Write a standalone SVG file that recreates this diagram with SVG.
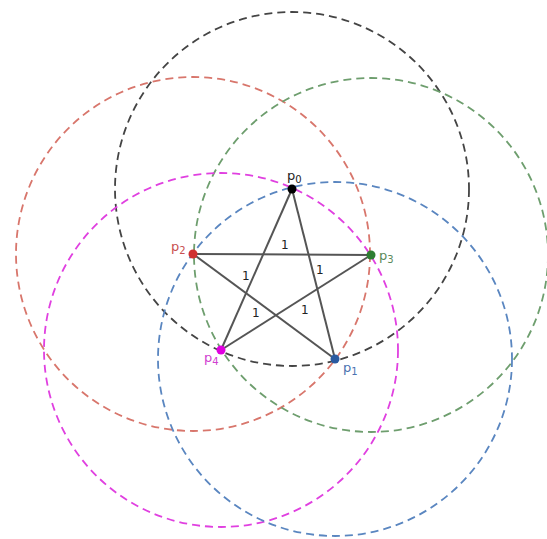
<svg xmlns="http://www.w3.org/2000/svg" width="547" height="539" viewBox="0 0 547 539">
<style>
.c{fill:none;stroke-width:1.8;stroke-dasharray:8 5}
.e{stroke:#555;stroke-width:2;fill:none}
.lbl{font-family:"DejaVu Sans",sans-serif;font-size:13px}
.w{font-family:"DejaVu Sans",sans-serif;font-size:12px;fill:#222}
</style>
<rect width="547" height="539" fill="#fff"/>
<g id="circles">
<circle class="c" cx="292" cy="189" r="177" stroke="#444"/>
<circle class="c" cx="193" cy="254" r="177" stroke="#d8766c"/>
<circle class="c" cx="371" cy="255" r="177" stroke="#6e9e6e"/>
<circle class="c" cx="221" cy="350" r="177" stroke="#e040e0"/>
<circle class="c" cx="335" cy="359" r="177" stroke="#5a86c0"/>
</g>
<g id="edges">
<line class="e" x1="292" y1="189" x2="335" y2="359"/>
<line class="e" x1="292" y1="189" x2="221" y2="350"/>
<line class="e" x1="193" y1="254" x2="371" y2="255"/>
<line class="e" x1="193" y1="254" x2="335" y2="359"/>
<line class="e" x1="371" y1="255" x2="221" y2="350"/>
<text class="w" x="281" y="249">1</text>
<text class="w" x="242" y="280">1</text>
<text class="w" x="316" y="274">1</text>
<text class="w" x="252" y="317">1</text>
<text class="w" x="301" y="314">1</text>
</g>
<g id="p0"><circle cx="292" cy="189" r="4.5" fill="#000"/><text class="lbl" x="287" y="180" fill="#222">p<tspan dy="3" font-size="10">0</tspan></text></g>
<g id="p1"><circle cx="335" cy="359" r="4.5" fill="#2a5aa0"/><text class="lbl" x="343" y="372" fill="#4a72b0">p<tspan dy="3" font-size="10">1</tspan></text></g>
<g id="p2"><circle cx="193" cy="254" r="4.5" fill="#d03030"/><text class="lbl" x="171" y="251" fill="#c85050">p<tspan dy="3" font-size="10">2</tspan></text></g>
<g id="p3"><circle cx="371" cy="255" r="4.5" fill="#2e7d32"/><text class="lbl" x="379" y="260" fill="#5a8a5a">p<tspan dy="3" font-size="10">3</tspan></text></g>
<g id="p4"><circle cx="221" cy="350" r="4.5" fill="#e000e0"/><text class="lbl" x="204" y="362" fill="#d040d0">p<tspan dy="3" font-size="10">4</tspan></text></g>
</svg>
